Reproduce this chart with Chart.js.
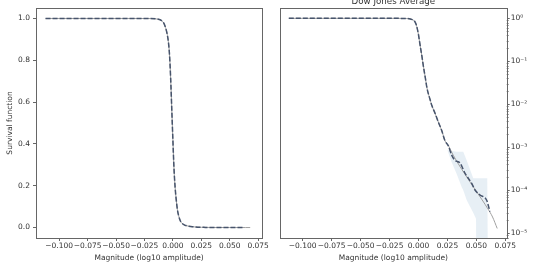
<!DOCTYPE html>
<html>
<head>
<meta charset="utf-8">
<script src="https://cdn.jsdelivr.net/npm/chart.js@4.4.1/dist/chart.umd.min.js"></script>
<style>
  body { margin: 0; background: #fff; }
  #izq, #der { position: absolute; top: 0; width: 270px; height: 270px; }
  #izq { left: 0; }
  #der { left: 270px; }
</style>
</head>
<body>
<div id="izq"><canvas id="graficoLineal" width="270" height="270"></canvas></div>
<div id="der"><canvas id="graficoLog" width="270" height="270"></canvas></div>
<script>
// Datos (magnitud log10 y funcion de supervivencia)
const magnitud = [-0.112, -0.100, -0.080, -0.060, -0.040, -0.030, -0.020, -0.015, -0.012, -0.010,
  -0.008, -0.007, -0.006, -0.005, -0.004, -0.003, -0.002, -0.001, 0.000, 0.001,
  0.002, 0.003, 0.004, 0.005, 0.006, 0.007, 0.008, 0.010, 0.0114, 0.014,
  0.0171, 0.020, 0.023, 0.0257, 0.0287, 0.0315, 0.0359, 0.0402, 0.046, 0.0488,
  0.0531, 0.0589, 0.0617];
const supervivencia = [1, 1, 1, 1, 0.99998, 0.9999, 0.9995, 0.998, 0.995, 0.99,
  0.978, 0.965, 0.948, 0.925, 0.89, 0.83, 0.72, 0.57, 0.42, 0.28,
  0.19, 0.13, 0.085, 0.058, 0.04, 0.027, 0.02, 0.013, 0.0096, 0.0065,
  0.0039, 0.0025, 0.0014, 0.0011, 0.00066, 0.0005, 0.00043, 0.00025, 0.000145, 0.000102,
  0.000078, 0.000059, 0.000032];

// Cola del ajuste (linea gris)
const ajusteMagnitud = [0.025, 0.030, 0.035, 0.040, 0.045, 0.050, 0.055, 0.060, 0.064, 0.068];
const ajusteCola = [0.0012, 0.00066, 0.00039, 0.00024, 0.00015, 0.000095, 0.00006, 0.000037, 0.000024, 0.000013];

// Banda de confianza en la cola
const bandaMagnitud = [0.0249, 0.0287, 0.033, 0.0373, 0.0387, 0.0416, 0.0473, 0.0497, 0.0500, 0.0594, 0.0603];
const bandaSuperior = [0.00087, 0.00082, 0.00079, 0.00079, 0.00079, 0.0005, 0.00019, 0.00019, 0.00019, 0.00019, 1e-7];
const bandaInferior = [0.00087, 0.00045, 0.00024, 0.00012, 0.0001, 0.00006, 0.00003, 0.000022, 1e-7, 1e-7, 1e-7];

// Ticks
const ticksX = [-0.100, -0.075, -0.050, -0.025, 0.000, 0.025, 0.050, 0.075];
const ticksLineal = [0.0, 0.2, 0.4, 0.6, 0.8, 1.0];
const ticksLog = [1e-5, 1e-4, 1e-3, 1e-2, 1e-1, 1];
const etiquetasLog = ['10⁻⁵', '10⁻⁴', '10⁻³', '10⁻²', '10⁻¹', '10⁰'];

const fuente = { family: 'DejaVu Sans', size: 7.5 };
const colorTexto = '#333';
const colorEje = '#666';

function puntos(xs, ys) {
  return xs.map((x, i) => ({ x: x, y: ys[i] }));
}

const empirico = puntos(magnitud, supervivencia);
const ajuste = empirico.filter(p => p.x <= 0.023).concat(puntos(ajusteMagnitud, ajusteCola));

function datasetEmpirico() {
  return {
    data: empirico, borderColor: '#47546c', borderWidth: 1.5, borderDash: [5, 2],
    pointRadius: 0, cubicInterpolationMode: 'monotone', fill: false, order: 0
  };
}
function datasetAjuste() {
  return {
    data: ajuste, borderColor: '#a0a0a0', borderWidth: 1,
    pointRadius: 0, cubicInterpolationMode: 'monotone', fill: false, order: 1
  };
}

// Caja completa alrededor del area
const caja = {
  id: 'caja',
  afterDraw(chart) {
    const a = chart.chartArea, ctx = chart.ctx;
    ctx.save();
    ctx.strokeStyle = colorEje;
    ctx.lineWidth = 1;
    ctx.strokeRect(Math.round(a.left) + 0.5, Math.round(a.top) + 0.5,
      Math.round(a.right - a.left), Math.round(a.bottom - a.top));
    ctx.restore();
  }
};

function ejeX(min, max) {
  return {
    type: 'linear', min: min, max: max,
    afterBuildTicks: s => { s.ticks = ticksX.map(v => ({ value: v })); },
    afterFit: s => { s.height = 32; },
    ticks: {
      autoSkip: false, maxRotation: 0, padding: 1, font: fuente, color: colorTexto,
      callback: v => v.toFixed(3).replace('-', '−')
    },
    grid: { drawOnChartArea: false, tickLength: 3, color: colorEje },
    border: { display: false },
    title: { display: true, text: 'Magnitude (log10 amplitude)', font: fuente, color: colorTexto, padding: { top: 0, bottom: 7 } }
  };
}

new Chart(document.getElementById('graficoLineal'), {
  type: 'line',
  data: { datasets: [datasetEmpirico(), datasetAjuste()] },
  options: {
    responsive: false, animation: false,
    layout: { padding: { left: 0, top: 8, right: 6.7, bottom: 0 } },
    plugins: { legend: { display: false }, tooltip: { enabled: false } },
    scales: {
      x: ejeX(-0.1204, 0.0785),
      y: {
        type: 'linear', min: -0.05, max: 1.05,
        afterBuildTicks: s => { s.ticks = ticksLineal.map(v => ({ value: v })); },
        afterFit: s => { s.width = 36; },
        ticks: { autoSkip: false, padding: 3, font: fuente, color: colorTexto, callback: v => v.toFixed(1) },
        grid: { drawOnChartArea: false, tickLength: 3, color: colorEje },
        border: { display: false },
        title: { display: true, text: 'Survival function', font: fuente, color: colorTexto, padding: { top: 6, bottom: 0 } }
      }
    }
  },
  plugins: [caja]
});

// Ticks menores del eje logaritmico y titulo
const extrasLog = {
  id: 'extrasLog',
  afterDraw(chart) {
    const ctx = chart.ctx, a = chart.chartArea, y = chart.scales.y;
    ctx.save();
    ctx.strokeStyle = colorEje;
    ctx.lineWidth = 0.8;
    for (let d = -6; d <= 0; d++) {
      for (let m = 2; m <= 9; m++) {
        const v = m * Math.pow(10, d);
        if (v <= y.min || v >= y.max) continue;
        const py = Math.round(y.getPixelForValue(v)) + 0.5;
        ctx.beginPath();
        ctx.moveTo(a.right, py);
        ctx.lineTo(a.right + 2, py);
        ctx.stroke();
      }
    }
    ctx.fillStyle = colorTexto;
    ctx.font = '8.7px "DejaVu Sans"';
    ctx.textAlign = 'center';
    ctx.textBaseline = 'alphabetic';
    ctx.fillText('Dow Jones Average', (a.left + a.right) / 2, 4);
    ctx.restore();
  }
};

new Chart(document.getElementById('graficoLog'), {
  type: 'line',
  data: {
    datasets: [
      datasetEmpirico(),
      datasetAjuste(),
      { data: puntos(bandaMagnitud, bandaSuperior), borderWidth: 0, pointRadius: 0, fill: false, order: 2 },
      { data: puntos(bandaMagnitud, bandaInferior), borderWidth: 0, pointRadius: 0, fill: '-1',
        backgroundColor: 'rgba(70,130,180,0.13)', order: 2 }
    ]
  },
  options: {
    responsive: false, animation: false,
    layout: { padding: { left: 10, top: 8, right: 0, bottom: 0 } },
    plugins: { legend: { display: false }, tooltip: { enabled: false } },
    scales: {
      x: ejeX(-0.1196, 0.0762),
      y: {
        type: 'logarithmic', position: 'right', min: 7.8e-6, max: 1.74,
        afterBuildTicks: s => { s.ticks = ticksLog.map(v => ({ value: v })); },
        afterFit: s => { s.width = 33.3; },
        ticks: {
          autoSkip: false, padding: 1, font: fuente, color: colorTexto,
          callback: (v, i) => etiquetasLog[i]
        },
        grid: { drawOnChartArea: false, tickLength: 3, color: colorEje },
        border: { display: false }
      }
    }
  },
  plugins: [caja, extrasLog]
});
</script>
</body>
</html>
